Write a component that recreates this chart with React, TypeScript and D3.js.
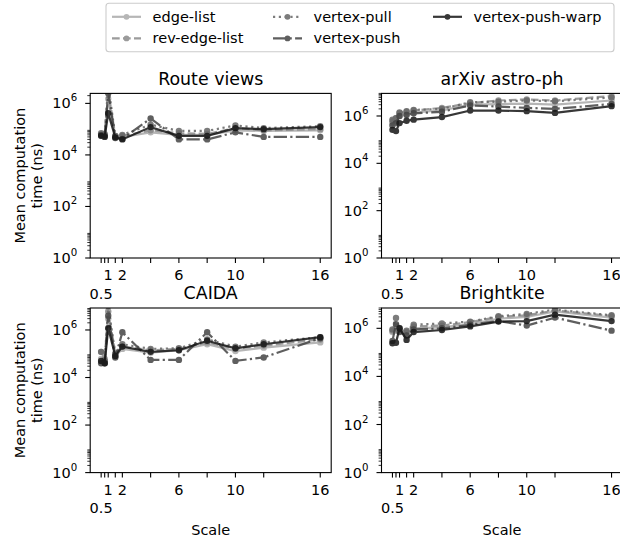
import React from 'react';
import * as d3 from 'd3';

// ---------- data ----------
const scaleValues = [0.5, 0.75, 1, 1.5, 2, 4, 6, 8, 10, 12, 16];
const xLabelValues = [1, 2, 6, 10, 16];
const xLowLabelValues = [0.5];
const yMajorExponents = [0, 2, 4, 6];

const seriesNames = ['edge-list', 'rev-edge-list', 'vertex-pull', 'vertex-push', 'vertex-push-warp'];
const seriesColors = ['#aaaaaa', '#8a8a8a', '#666666', '#444444', '#151515'];
const seriesDashes = ['', '7.7,3.3', '2.2,3.6', '13.3,3.3,2.2,3.3', ''];

// order of rows: edge-list, rev-edge-list, vertex-pull, vertex-push, vertex-push-warp
const routeViews = [
  [5.5e4, 5.5e4, 1.5e6, 5e4, 5e4, 7.5e4, 6e4, 6e4, 9e4, 8.5e4, 9e4],
  [6e4, 6.5e4, 3e6, 5.5e4, 5.5e4, 9e4, 7e4, 6.5e4, 1.1e5, 9e4, 1e5],
  [7e4, 6e4, 5e6, 5.5e4, 6e4, 1.5e5, 8.5e4, 8.5e4, 1.4e5, 1.1e5, 1.3e5],
  [6e4, 5.5e4, 2.5e6, 4.5e4, 4.2e4, 2.6e5, 4e4, 4e4, 7.5e4, 5e4, 5e4],
  [5.5e4, 5e4, 4.2e5, 4.8e4, 4e4, 1.2e5, 5.5e4, 5.5e4, 1.1e5, 1e5, 1.2e5],
];
const arxivAstroPh = [
  [5e5, 6e5, 1e6, 1.2e6, 1.4e6, 1.7e6, 3e6, 3.2e6, 3.3e6, 3e6, 4.5e6],
  [6e5, 8e5, 1.3e6, 1.5e6, 1.7e6, 2.2e6, 3.5e6, 4.5e6, 5e6, 4.5e6, 7e6],
  [7e5, 8e5, 1.4e6, 1.6e6, 1.8e6, 2e6, 3.8e6, 4e6, 4.5e6, 4.2e6, 6e6],
  [4e5, 5e5, 1e6, 1.1e6, 1.3e6, 1.5e6, 2.8e6, 2.5e6, 2.2e6, 2e6, 3.2e6],
  [2.6e5, 2.3e5, 5e5, 6.3e5, 7e5, 9e5, 1.7e6, 1.7e6, 1.6e6, 1.35e6, 2.6e6],
];
const caida = [
  [6e4, 5e4, 3e6, 8e4, 1.6e5, 1.1e5, 1.4e5, 2.5e5, 1.3e5, 1.8e5, 3e5],
  [1.2e5, 6e4, 6e6, 1e5, 2e5, 1.4e5, 1.6e5, 3e5, 1.6e5, 2.2e5, 4e5],
  [1.2e5, 5e4, 1e7, 1e5, 2.5e5, 1.6e5, 1.7e5, 4e5, 2e5, 3e5, 5e5],
  [4e4, 4e4, 4e6, 7e4, 8e5, 5.5e4, 5.5e4, 8e5, 5e4, 7e4, 4.5e5],
  [5e4, 4e4, 1.2e6, 8e4, 2e5, 1.2e5, 1.4e5, 3.5e5, 1.7e5, 2.5e5, 5e5],
];
const brightkite = [
  [7e5, 8e5, 8e5, 6e5, 1e6, 1.1e6, 1.5e6, 2.5e6, 3e6, 5e6, 2.8e6],
  [8e5, 1.2e6, 9e5, 7e5, 1.2e6, 1.3e6, 1.8e6, 3e6, 3.5e6, 5.5e6, 3.3e6],
  [9e5, 2.7e6, 1e6, 8e5, 1.4e6, 1.6e6, 1.9e6, 3.2e6, 4e6, 6e6, 3.5e6],
  [3e5, 1.5e6, 7e5, 5e5, 9e5, 1e6, 1.4e6, 2e6, 1.3e6, 2.8e6, 8e5],
  [2.4e5, 2.5e5, 1e6, 3.3e5, 7e5, 8.5e5, 1.2e6, 1.9e6, 2e6, 3.7e6, 2e6],
];

const panelTitles = ['Route views', 'arXiv astro-ph', 'CAIDA', 'Brightkite'];
const panelData = [routeViews, arxivAstroPh, caida, brightkite];
const panelYMax = [2.44e6, 9e6, 8.4e6, 7e6];

// ---------- layout ----------
const W = 620;
const H = 538;
const colLeft = [90.2, 381.5];
const rowTop = [93.4, 308.0];
const axW = 241;
const axH = 164.6;
const FONT = 'DejaVu Sans, sans-serif';
const FS = 14.5;
const MARKER_R = 3.2;

function Panel({ idx }: { idx: number }) {
  const col = idx % 2;
  const row = Math.floor(idx / 2);
  const x0 = colLeft[col];
  const y0 = rowTop[row];
  const data = panelData[idx];
  const xMin = d3.min(scaleValues) as number;
  const xMax = d3.max(scaleValues) as number;
  const pad = (xMax - xMin) * 0.05;
  const x = d3.scaleLinear().domain([xMin - pad, xMax + pad]).range([x0, x0 + axW]);
  const y = d3.scaleLog().domain([1, panelYMax[idx]]).range([y0 + axH, y0]);
  const line = d3
    .line<[number, number]>()
    .x((d) => x(d[0]))
    .y((d) => y(d[1]));
  const clipId = `clip${idx}`;
  const bottom = y0 + axH;

  const minorTicks: number[] = [];
  yMajorExponents.forEach((e) => {
    for (let k = 2; k <= 9; k++) {
      const v = k * Math.pow(10, e);
      if (v <= panelYMax[idx]) minorTicks.push(v);
    }
  });

  return (
    <g>
      <defs>
        <clipPath id={clipId}>
          <rect x={x0} y={y0} width={axW} height={axH} />
        </clipPath>
      </defs>
      <g clipPath={`url(#${clipId})`}>
        {data.map((vals, si) => {
          const pts: [number, number][] = scaleValues.map((s, i) => [s, vals[i]]);
          return (
            <g key={si} opacity={0.85}>
              <path
                d={line(pts) || ''}
                fill="none"
                stroke={seriesColors[si]}
                strokeWidth={2.2}
                strokeDasharray={seriesDashes[si] || undefined}
              />
              {pts.map((p, i) => (
                <circle key={i} cx={x(p[0])} cy={y(p[1])} r={MARKER_R} fill={seriesColors[si]} />
              ))}
            </g>
          );
        })}
      </g>
      {/* spines */}
      <rect x={x0} y={y0} width={axW} height={axH} fill="none" stroke="#000" strokeWidth={1.1} />
      {/* x ticks */}
      {scaleValues.map((s, i) => (
        <line key={i} x1={x(s)} x2={x(s)} y1={bottom} y2={bottom + 5} stroke="#000" strokeWidth={1.1} />
      ))}
      {xLabelValues.map((s, i) => (
        <text key={i} x={x(s)} y={bottom + 17} textAnchor="middle" dominantBaseline="central" fontSize={FS} fontFamily={FONT}>
          {s}
        </text>
      ))}
      {xLowLabelValues.map((s, i) => (
        <text key={i} x={x(s)} y={bottom + 35.5} textAnchor="middle" dominantBaseline="central" fontSize={FS} fontFamily={FONT}>
          {s}
        </text>
      ))}
      {/* y ticks */}
      {yMajorExponents.map((e) => (
        <g key={e}>
          <line x1={x0 - 5} x2={x0} y1={y(Math.pow(10, e))} y2={y(Math.pow(10, e))} stroke="#000" strokeWidth={1.1} />
          <text x={x0 - 13} y={y(Math.pow(10, e)) + 5} textAnchor="end" fontSize={FS} fontFamily={FONT}>
            10
            <tspan dy={-7} fontSize={10.2}>
              {e}
            </tspan>
          </text>
        </g>
      ))}
      {minorTicks.map((v, i) => (
        <line key={i} x1={x0 - 2.9} x2={x0} y1={y(v)} y2={y(v)} stroke="#000" strokeWidth={0.8} />
      ))}
      {/* title */}
      <text x={x0 + axW / 2} y={y0 - 8.7} textAnchor="middle" fontSize={17.4} fontFamily={FONT}>
        {panelTitles[idx]}
      </text>
      {col === 0 && (
        <text
          transform={`translate(${x0 - 65},${y0 + axH / 2}) rotate(-90)`}
          textAnchor="middle"
          fontSize={FS}
          fontFamily={FONT}
        >
          <tspan x={0} dy={0}>Mean computation</tspan>
          <tspan x={0} dy={16.6}>time (ns)</tspan>
        </text>
      )}
      {row === 1 && (
        <text x={x0 + axW / 2} y={bottom + 57} textAnchor="middle" dominantBaseline="central" fontSize={FS} fontFamily={FONT}>
          Scale
        </text>
      )}
    </g>
  );
}

function Legend() {
  const boxX = 106;
  const boxY = 3.3;
  const boxW = 508;
  const boxH = 48.4;
  const colX = [112, 273, 433];
  const rowY = [16.8, 38.4];
  const handleLen = 29;
  const textPad = 11.6;
  return (
    <g>
      <rect x={boxX} y={boxY} width={boxW} height={boxH} rx={3} fill="#fff" fillOpacity={0.8} stroke="#cccccc" strokeWidth={1.1} />
      {seriesNames.map((name, i) => {
        const c = Math.floor(i / 2);
        const r = i % 2;
        const hx = colX[c];
        const hy = rowY[r];
        return (
          <g key={name}>
            <g opacity={0.85}>
              <line
                x1={hx}
                x2={hx + handleLen}
                y1={hy}
                y2={hy}
                stroke={seriesColors[i]}
                strokeWidth={2.2}
                strokeDasharray={seriesDashes[i] || undefined}
              />
              <circle cx={hx + handleLen / 2} cy={hy} r={2.9} fill={seriesColors[i]} />
            </g>
            <text x={hx + handleLen + textPad} y={hy} dominantBaseline="central" fontSize={FS} fontFamily={FONT}>
              {name}
            </text>
          </g>
        );
      })}
    </g>
  );
}

export default function App() {
  return (
    <svg
      width={W}
      height={H}
      viewBox={`0 0 ${W} ${H}`}
      style={{ position: 'absolute', left: 0, top: 0, background: '#fff' }}
    >
      <rect x={0} y={0} width={W} height={H} fill="#fff" />
      {[0, 1, 2, 3].map((i) => (
        <Panel key={i} idx={i} />
      ))}
      <Legend />
    </svg>
  );
}
